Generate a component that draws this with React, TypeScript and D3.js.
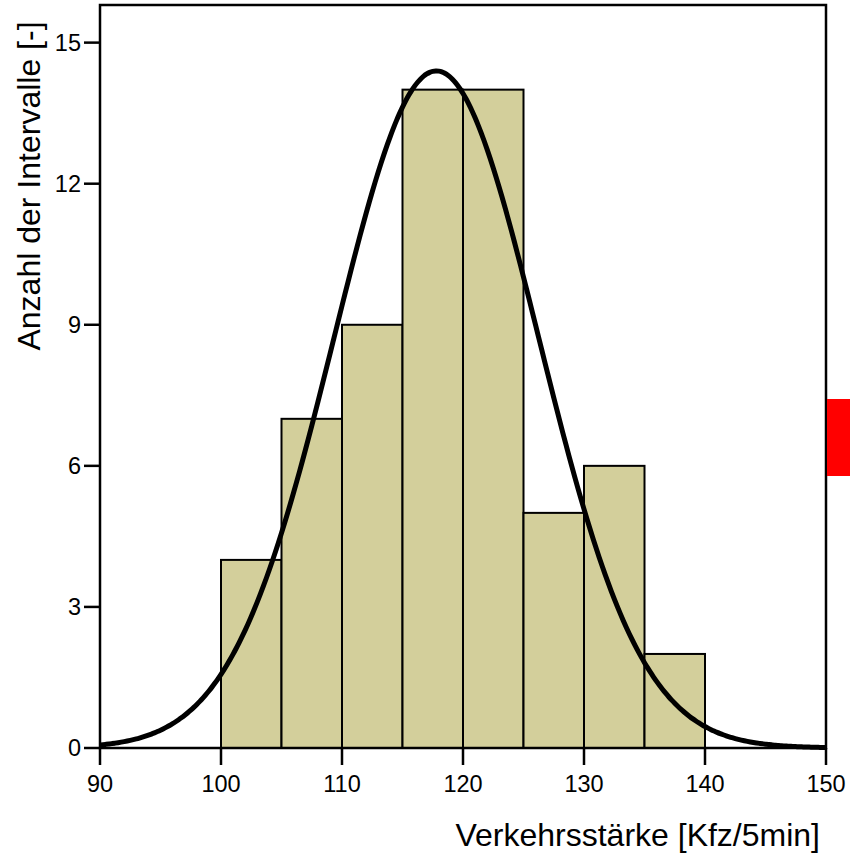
import * as d3 from 'd3';
import React from 'react';

// histogram bins (Kfz/5min) and counts
const binStarts = [100, 105, 110, 115, 120, 125, 130, 135];
const binWidth = 5;
const counts = [4, 7, 9, 14, 14, 5, 6, 2];
const xTicks = [90, 100, 110, 120, 130, 140, 150];
const yTicks = [0, 3, 6, 9, 12, 15];

// fitted normal distribution
const fitMean = 117.8;
const fitSd = 8.45;

function App() {
    const width = 850;
    const height = 855;
    const margin = { top: 5, right: 24, bottom: 107, left: 100 };

    const xScale = d3.scaleLinear()
        .domain([90, 150])
        .range([margin.left, width - margin.right]);

    const yScale = d3.scaleLinear()
        .domain([0, 15.8])
        .range([height - margin.bottom, margin.top]);

    const total = d3.sum(counts);
    const fitX = d3.range(90, 150.01, 0.25);
    const fitCurve = fitX.map(x => [x, total * binWidth * (1 / (fitSd * Math.sqrt(2 * Math.PI))) * Math.exp(-((x - fitMean) ** 2) / (2 * fitSd * fitSd))]);

    const line = d3.line()
        .x(d => xScale(d[0]))
        .y(d => yScale(d[1]))
        .curve(d3.curveBasis);

    const x0 = xScale(90), x1 = xScale(150);
    const y0 = yScale(0), yTop = yScale(15.8);

    return (
        <svg width={width} height={height} style={{ position: 'absolute', left: 0, top: 0, fontFamily: 'Liberation Sans, Arial, sans-serif' }}>
            <rect x={0} y={0} width={width} height={height} fill="white" />

            {/* bars */}
            {binStarts.map((b, i) => (
                <rect key={b}
                    x={xScale(b)} y={yScale(counts[i])}
                    width={xScale(b + binWidth) - xScale(b)}
                    height={y0 - yScale(counts[i])}
                    fill="#d3cf9b" stroke="black" strokeWidth={2} />
            ))}

            {/* fitted curve */}
            <path d={line(fitCurve)} fill="none" stroke="black" strokeWidth={5} />

            {/* frame */}
            <rect x={x0} y={yTop} width={x1 - x0} height={y0 - yTop} fill="none" stroke="black" strokeWidth={2.5} />

            {/* y ticks */}
            {yTicks.map(t => (
                <g key={t}>
                    <line x1={x0 - 16} x2={x0} y1={yScale(t)} y2={yScale(t)} stroke="black" strokeWidth={2.5} />
                    <text x={x0 - 19} y={yScale(t)} dy="0.36em" textAnchor="end" fontSize={23.5}>{t}</text>
                </g>
            ))}

            {/* x ticks */}
            {xTicks.map(t => (
                <g key={t}>
                    <line x1={xScale(t)} x2={xScale(t)} y1={y0} y2={y0 + 17} stroke="black" strokeWidth={2.5} />
                    <text x={xScale(t)} y={y0 + 44} textAnchor="middle" fontSize={23.5}>{t}</text>
                </g>
            ))}

            {/* axis titles */}
            <text x={820} y={846} textAnchor="end" fontSize={32}>Verkehrsstärke [Kfz/5min]</text>
            <text transform="translate(40, 186) rotate(-90)" textAnchor="middle" fontSize={32}>Anzahl der Intervalle [-]</text>

            {/* red marker on right edge */}
            <rect x={827} y={399} width={30} height={77} fill="red" />
        </svg>
    );
}

export default App;
